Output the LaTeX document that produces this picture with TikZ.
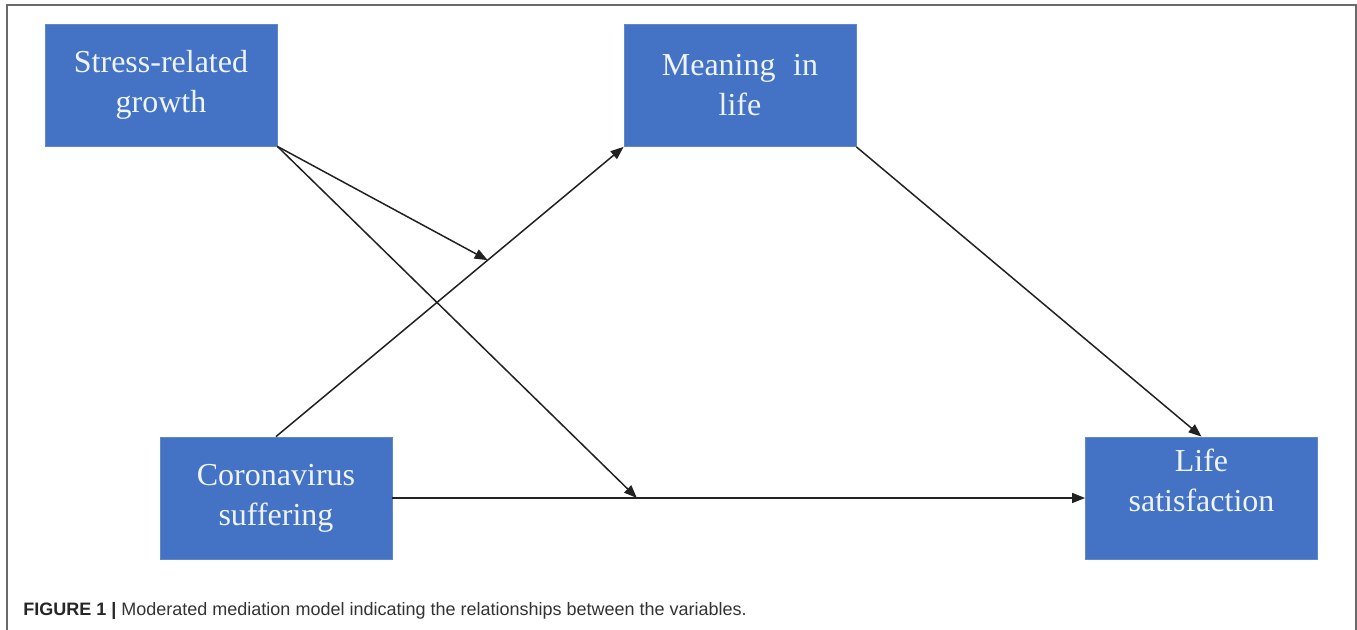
\documentclass[tikz,border=0pt]{standalone}
\usepackage{fontspec}
\setmainfont{Liberation Serif}
\newfontfamily\capfont{Liberation Sans}
\usetikzlibrary{arrows.meta,calc}
\definecolor{boxblue}{HTML}{4472C4}
\definecolor{boxtext}{HTML}{EEF4FB}
\definecolor{framegray}{HTML}{6A6A6A}
\definecolor{linecol}{HTML}{222222}
\definecolor{captext}{HTML}{333333}
\begin{document}
\begin{tikzpicture}[x=0.5pt,y=-0.5pt,
  varbox/.style={draw=boxblue!85!white, line width=0.4pt, fill=boxblue, minimum width=116pt, minimum height=61pt, inner sep=0pt},
  vartext/.style={text=boxtext, align=center, font=\fontsize{16}{20}\selectfont},
  conn/.style={draw=linecol, line width=0.75pt, -{Triangle[length=6.5pt,width=5pt]}}]
\useasboundingbox (0,0) rectangle (1357,630);
\fill[white] (0,0) rectangle (1357,630);
\draw[framegray, line width=1pt] (7,650) -- (7,5) -- (1356,5) -- (1356,650);

\node[varbox, vartext] (stress) at (161,85) {Stress-related\\growth};
\node[varbox, vartext] (meaning) at (740,85.5) {Meaning\hspace{0.3em} in\\life};
\node[varbox, vartext] (corona) at (276,498) {Coronavirus\\suffering};
\node[varbox] (life) at (1201.5,498) {};
\node[vartext] (lifetext) at ($(life.center)+(0,-18)$) {Life\\satisfaction};

\coordinate (m1) at ($(corona.north)!0.609!(meaning.south west)$);
\coordinate (m2) at ($(corona.east)!0.353!(life.west)$);

\draw[conn] (corona.north) -- (meaning.south west);
\draw[conn] (meaning.south east) -- (life.north);
\draw[conn] (corona.east) -- (life.west);
\draw[conn] (stress.south east) -- (m1);
\draw[conn] (stress.south east) -- (m2);

\node[anchor=base west, inner sep=0pt, text=captext, font=\capfont\fontsize{9}{10}\selectfont] (caption) at (23,616)
  {\textbf{\color{black!85}FIGURE 1 |} Moderated mediation model indicating the relationships between the variables.};
\end{tikzpicture}
\end{document}
